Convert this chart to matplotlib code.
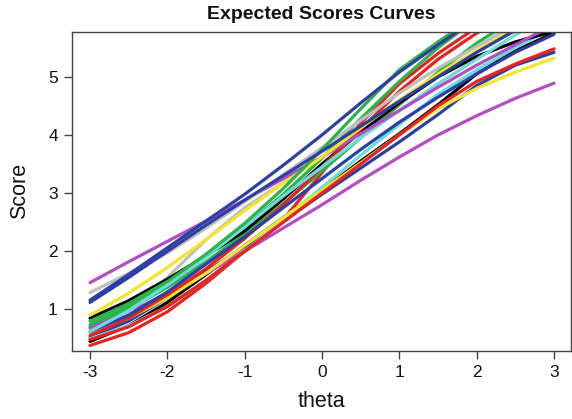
import matplotlib
matplotlib.use("Agg")
import matplotlib.pyplot as plt

plt.rcParams['font.family'] = ['Liberation Sans', 'DejaVu Sans']

theta = [-3.0, -2.5, -2.0, -1.5, -1.0, -0.5, 0.0, 0.5, 1.0, 1.5, 2.0, 2.5, 3.0]

# expected score curves (score at each theta)
magenta_1 = [1.46, 1.82, 2.17, 2.52, 2.88, 3.25, 3.62, 4.02, 4.42, 4.82, 5.20, 5.55, 5.90]
blue_1    = [1.16, 1.60, 2.06, 2.52, 2.98, 3.48, 4.00, 4.55, 5.08, 5.55, 6.00, 6.40, 6.70]
gray_1    = [1.29, 1.62, 1.97, 2.40, 2.85, 3.32, 3.78, 4.25, 4.72, 5.15, 5.52, 5.90, 6.20]
yellow_1  = [0.90, 1.28, 1.72, 2.20, 2.70, 3.17, 3.62, 4.12, 4.60, 5.05, 5.45, 5.85, 6.15]
green_1   = [0.80, 1.10, 1.48, 1.95, 2.48, 3.08, 3.75, 4.45, 5.12, 5.60, 6.05, 6.50, 6.90]
green_2   = [0.74, 1.05, 1.45, 1.92, 2.42, 2.98, 3.60, 4.28, 4.92, 5.50, 6.00, 6.45, 6.75]
red_1     = [0.38, 0.60, 0.96, 1.45, 2.00, 2.55, 3.35, 4.20, 4.88, 5.40, 5.85, 6.25, 6.50]
red_2     = [0.55, 0.85, 1.25, 1.70, 2.22, 2.80, 3.45, 4.10, 4.75, 5.30, 5.75, 6.10, 6.40]
black_1   = [0.85, 1.15, 1.52, 1.92, 2.35, 2.90, 3.50, 4.05, 4.55, 5.00, 5.35, 5.60, 5.78]
black_2   = [0.45, 0.72, 1.12, 1.60, 2.10, 2.58, 3.05, 3.55, 4.02, 4.52, 5.05, 5.45, 5.75]
blue_2    = [0.52, 0.80, 1.20, 1.65, 2.08, 2.52, 2.98, 3.43, 3.88, 4.35, 4.85, 5.20, 5.42]
blue_3    = [0.62, 0.90, 1.30, 1.78, 2.25, 2.75, 3.25, 3.75, 4.22, 4.65, 5.05, 5.42, 5.73]
cyan_1    = [0.62, 0.98, 1.42, 1.90, 2.42, 2.95, 3.45, 3.95, 4.42, 4.88, 5.30, 5.72, 6.10]
cyan_2    = [0.50, 0.72, 1.05, 1.50, 2.00, 2.55, 3.10, 3.65, 4.18, 4.70, 5.12, 5.50, 5.85]
magenta_2 = [0.68, 0.95, 1.28, 1.62, 2.00, 2.40, 2.80, 3.22, 3.62, 4.00, 4.33, 4.63, 4.89]
yellow_2  = [0.58, 0.85, 1.20, 1.62, 2.10, 2.58, 3.05, 3.52, 4.00, 4.45, 4.80, 5.08, 5.32]
red_3     = [0.48, 0.70, 1.05, 1.50, 2.00, 2.50, 3.00, 3.50, 4.00, 4.50, 4.92, 5.22, 5.48]
gray_2    = [0.60, 0.95, 1.55, 2.20, 2.75, 3.18, 3.62, 4.08, 4.55, 5.00, 5.42, 5.80, 6.15]
green_3   = [0.70, 1.00, 1.38, 1.82, 2.30, 2.82, 3.38, 3.95, 4.52, 5.08, 5.58, 6.00, 6.35]
blue_4    = [1.12, 1.55, 2.00, 2.45, 2.88, 3.30, 3.72, 4.15, 4.58, 5.00, 5.42, 5.80, 6.15]

x_ticks = [-3, -2, -1, 0, 1, 2, 3]
y_ticks = [1, 2, 3, 4, 5]

BLACK = '#000000'
RED = '#E8231F'
GREEN = '#2DB34A'
BLUE = '#2E3FA3'
CYAN = '#6ADCDC'
MAGENTA = '#B44CC6'
YELLOW = '#F2E52A'
GRAY = '#BEBEBE'

series = [
    (black_2, BLACK), (red_1, RED), (green_3, GREEN), (blue_2, BLUE),
    (cyan_2, CYAN), (magenta_2, MAGENTA), (yellow_2, YELLOW), (gray_2, GRAY),
    (black_1, BLACK), (red_2, RED), (green_2, GREEN), (blue_3, BLUE),
    (cyan_1, CYAN), (magenta_1, MAGENTA), (yellow_1, YELLOW), (gray_1, GRAY),
    (red_3, RED), (green_1, GREEN), (blue_4, BLUE), (blue_1, BLUE),
]

fig = plt.figure(figsize=(5.72, 4.19), dpi=100)
ax = fig.add_axes([0.1254, 0.163, 0.8723, 0.7606])

for vals, col in series:
    ax.plot(theta, vals, color=col, lw=2.3, solid_capstyle='round')

ax.set_xlim(-3.237, 3.216)
ax.set_ylim(0.29, 5.77)
ax.set_xticks(x_ticks)
ax.set_xticklabels([str(v) for v in x_ticks])
ax.set_yticks(y_ticks)
ax.set_yticklabels([str(v) for v in y_ticks])

for s in ax.spines.values():
    s.set_color('#444444')
    s.set_linewidth(1.0)
ax.tick_params(axis='both', colors='#444444', labelcolor='#111111',
               length=6, width=1.0, labelsize=12.5, pad=4)

ax.set_xlabel('theta', fontsize=15.5, color='#111111', labelpad=8)
ax.set_ylabel('Score', fontsize=15.5, color='#111111', labelpad=13)
ax.set_title('Expected Scores Curves', fontsize=14, fontweight='bold',
             color='#111111', pad=9.5)

fig.savefig('out.png', dpi=100)
